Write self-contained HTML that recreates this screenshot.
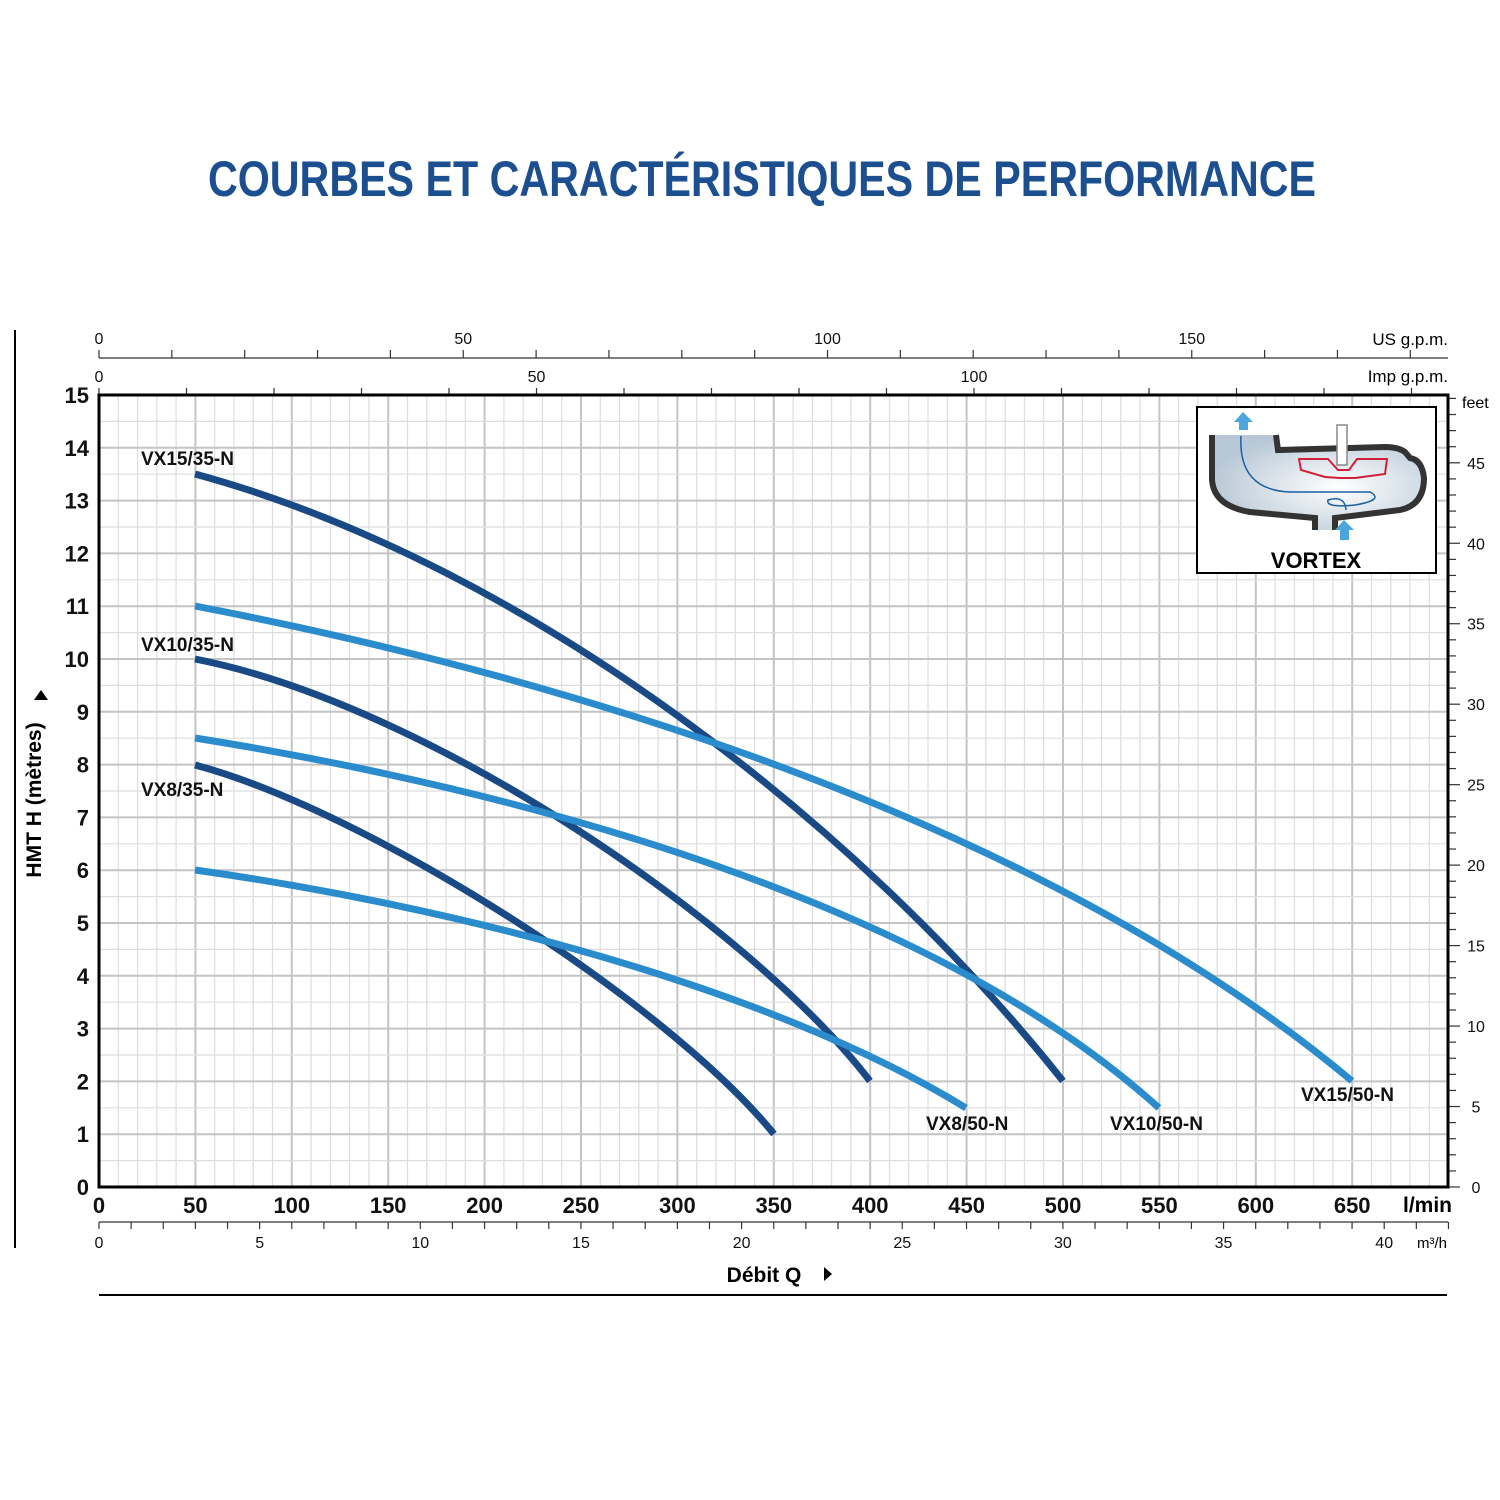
<!DOCTYPE html>
<html><head><meta charset="utf-8"><style>html,body{margin:0;padding:0;background:#fff}svg{display:block}</style></head>
<body>
<svg id="s" width="1500" height="1500" viewBox="0 0 1500 1500" xmlns="http://www.w3.org/2000/svg" font-family="Liberation Sans, Arial, sans-serif">
<rect width="1500" height="1500" fill="#fff"/>
<text x="762" y="196" text-anchor="middle" font-size="50" font-weight="bold" fill="#1b4f8f" textLength="1108" lengthAdjust="spacingAndGlyphs">COURBES ET CARACTÉRISTIQUES DE PERFORMANCE</text>
<line x1="15" y1="330" x2="15" y2="1248" stroke="#000" stroke-width="2"/>
<line x1="99" y1="1295" x2="1447" y2="1295" stroke="#000" stroke-width="2"/>
<g id="grid"></g>
<g id="ticks" fill="#111"></g>
<rect x="99" y="395" width="1349" height="792" fill="none" stroke="#000" stroke-width="3"/>
<g>
<rect x="1197" y="407" width="239" height="166" fill="#fff" stroke="#000" stroke-width="2"/>
<defs><radialGradient id="g" cx="0.6" cy="0.55" r="0.6"><stop offset="0" stop-color="#fff"/><stop offset="1" stop-color="#b8c8d6"/></radialGradient></defs>
<path d="M1210,435 L1210,480 Q1212,505 1250,512 L1315,518 L1315,530 L1335,530 L1335,518 L1400,510 Q1425,505 1425,478 Q1422,460 1410,458 L1405,452 Q1398,447 1385,447 L1278,450 L1276,435 Z" fill="url(#g)"/>
<path d="M1212,435 L1212,480 Q1214,506 1250,512 L1315,518 L1315,530 M1335,530 L1335,518 L1400,510 Q1424,505 1424,478 Q1422,460 1410,458 L1405,452 Q1398,447 1385,447 L1278,450 L1276,435" fill="none" stroke="#333" stroke-width="6"/>
<rect x="1337" y="425" width="10" height="40" fill="#fff" stroke="#888" stroke-width="1.5"/>
<path d="M1299,459 L1328,459 L1338,470 L1349,470 L1357,459 L1387,459 L1385,474 L1355,478 L1340,478 L1325,477 L1301,470 Z" fill="none" stroke="#d0203a" stroke-width="2"/>
<path d="M1241,436 Q1238,490 1290,492 L1370,492 Q1385,500 1355,505 Q1325,508 1328,500 Q1345,495 1346,510" fill="none" stroke="#1a5fa8" stroke-width="1.5"/>
<path d="M1243,412 L1234,422 L1239,422 L1239,430 L1248,430 L1248,422 L1253,422 Z" fill="#4aa6dc"/>
<path d="M1344,520 L1335,530 L1340,530 L1340,540 L1349,540 L1349,530 L1354,530 Z" fill="#4aa6dc"/>
<text x="1316" y="568" text-anchor="middle" font-size="22" font-weight="bold">VORTEX</text>
</g>
<g fill="none" stroke-width="7" stroke-linecap="butt">
<path d="M195,474 C530,565 863,829 1063,1081" stroke="#1a4a85"/>
<path d="M195,659 C430,705 750,925 870,1081" stroke="#1a4a85"/>
<path d="M195,765 C365,810 664,999 774,1134" stroke="#1a4a85"/>
<path d="M195,606 C595,683 1052,830 1352,1081" stroke="#2a8ccc"/>
<path d="M195,738 C520,790 929,900 1159,1108" stroke="#2a8ccc"/>
<path d="M195,870 C445,905 766,985 966,1108" stroke="#2a8ccc"/>
</g>
<g font-size="19" font-weight="bold" fill="#111">
<text x="141" y="465">VX15/35-N</text>
<text x="141" y="651">VX10/35-N</text>
<text x="141" y="796">VX8/35-N</text>
<text x="926" y="1130">VX8/50-N</text>
<text x="1110" y="1130">VX10/50-N</text>
<text x="1301" y="1101">VX15/50-N</text>
</g>
<text transform="translate(41,800) rotate(-90)" text-anchor="middle" font-size="21" font-weight="bold">HMT H (mètres)</text>
<path d="M34,700 L41,690 L48,700 Z" fill="#000"/>
<text x="764" y="1282" text-anchor="middle" font-size="21" font-weight="bold">Débit Q</text>
<path d="M824,1267 L832,1274 L824,1281 Z" fill="#000"/>
<text x="1448" y="345" text-anchor="end" font-size="17">US g.p.m.</text>
<text x="1448" y="382" text-anchor="end" font-size="17">Imp g.p.m.</text>
<text x="1462" y="408" font-size="16">feet</text>
<text x="1403" y="1212" font-size="21" font-weight="bold">l/min</text>
<text x="1417" y="1248" font-size="15">m³/h</text>
</svg>
<script>
var NS="http://www.w3.org/2000/svg";
function el(p,t,a,txt){var e=document.createElementNS(NS,t);for(var k in a)e.setAttribute(k,a[k]);if(txt!==undefined)e.textContent=txt;document.getElementById(p).appendChild(e);}
var X0=99,PX=1.928,Y0=1187,PY=52.8;
for(var q=10;q<700;q+=10){var x=X0+q*PX;el('grid','line',{x1:x,y1:396,x2:x,y2:1186,stroke:q%50==0?'#c4c4c4':'#ddd','stroke-width':q%50==0?2:1.2});}
for(var h=0.5;h<15;h+=0.5){var y=Y0-h*PY;el('grid','line',{x1:100,y1:y,x2:1447,y2:y,stroke:h%1==0?'#c4c4c4':'#ddd','stroke-width':h%1==0?2:1.2});}
for(var h=0;h<=15;h++){el('ticks','text',{x:89,y:Y0-h*PY+8,'text-anchor':'end','font-size':22,'font-weight':'bold'},h);}
for(var q=0;q<=650;q+=50){el('ticks','text',{x:X0+q*PX,y:1213,'text-anchor':'middle','font-size':22,'font-weight':'bold'},q);}
el('ticks','line',{x1:99,y1:1222,x2:1448,y2:1222,stroke:'#333','stroke-width':1.2});
for(var m=0;m<=42;m++){var x=99+m*32.13;el('ticks','line',{x1:x,y1:1222,x2:x,y2:1229,stroke:'#333','stroke-width':1.2});if(m%5==0&&m<=40)el('ticks','text',{x:x,y:1248,'text-anchor':'middle','font-size':16},m);}
el('ticks','line',{x1:99,y1:358,x2:1448,y2:358,stroke:'#333','stroke-width':1.2});
for(var g=0;g<=180;g+=10){var x=99+g*7.285;if(x>1448)break;el('ticks','line',{x1:x,y1:358,x2:x,y2:350,stroke:'#333','stroke-width':1.2});if(g%50==0)el('ticks','text',{x:x,y:344,'text-anchor':'middle','font-size':16},g);}
for(var g=0;g<=150;g+=10){var x=99+g*8.75;if(x>1448)break;el('ticks','line',{x1:x,y1:395,x2:x,y2:388,stroke:'#333','stroke-width':1.2});if(g%50==0&&g<150)el('ticks','text',{x:x,y:382,'text-anchor':'middle','font-size':16},g);}
for(var f=0;f<=49;f++){var y=Y0-f*0.3048*PY;if(y<396)break;el('ticks','line',{x1:1448,y1:y,x2:f%5==0?1460:1456,y2:y,stroke:'#333','stroke-width':1.2});if(f%5==0)el('ticks','text',{x:1476,y:y+6,'text-anchor':'middle','font-size':16},f);}
</script>
</body></html>
